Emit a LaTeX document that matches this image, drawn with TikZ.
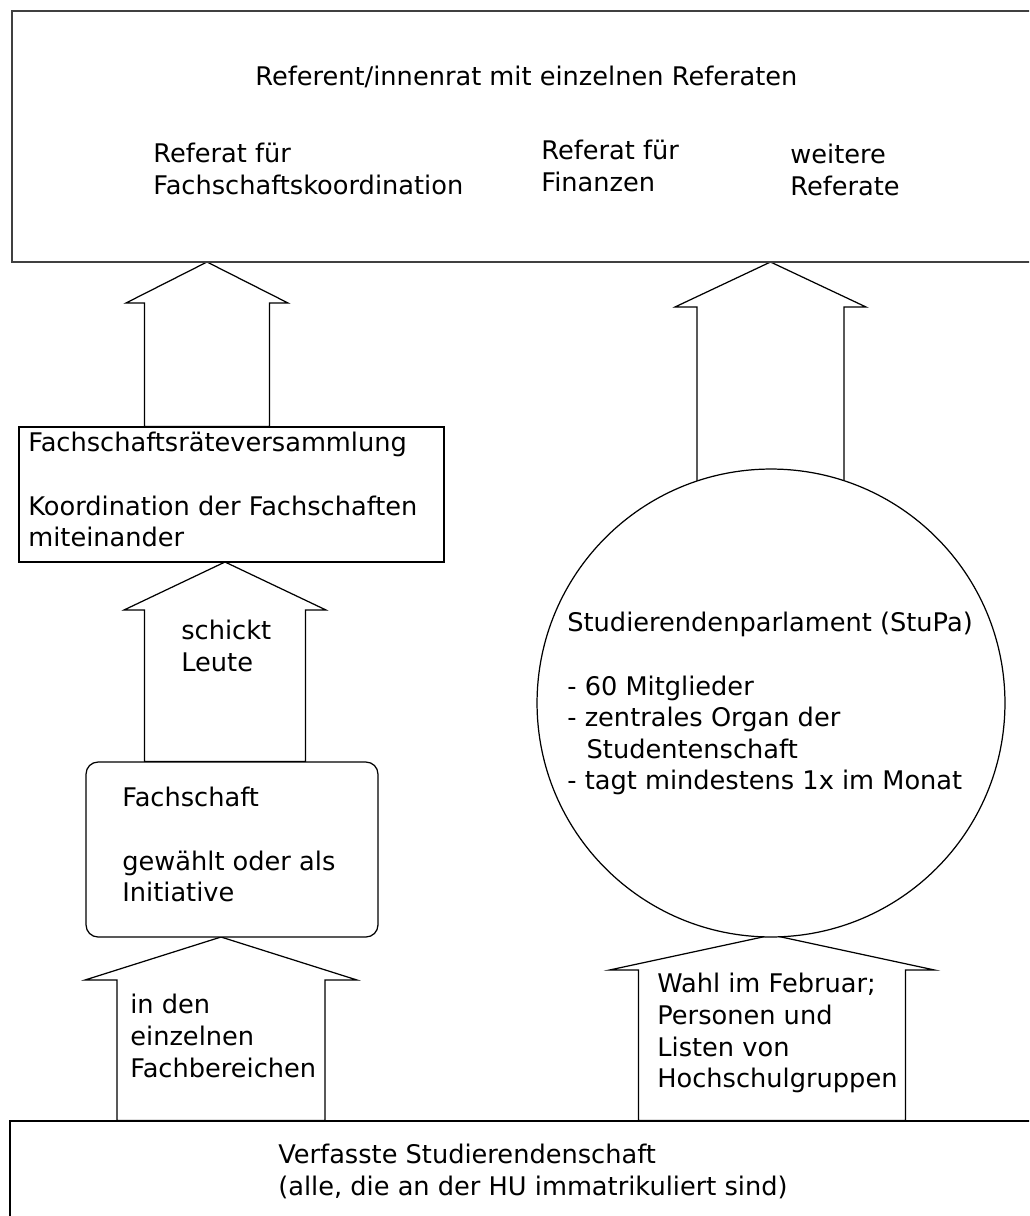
\documentclass[tikz,border=0pt]{standalone}
\usepackage{fontspec}
\setmainfont{DejaVu Sans}
\usepackage{tikz}
\usetikzlibrary{calc, backgrounds, positioning}

% block arrow: tip, lower anchor, shaft half width, head half width, head length
\newcommand{\blockarrow}[5]{%
  \draw[blockarr] (#1) -- ($(#1)+(#4,#5)$) -- ($(#1)+(#3,#5)$) -- ($(#1 |- #2)+(#3,0)$)
    -- ($(#1 |- #2)+(-#3,0)$) -- ($(#1)+(-#3,#5)$) -- ($(#1)+(-#4,#5)$) -- cycle;}

\begin{document}
\begin{tikzpicture}[
    x=0.02cm, y=-0.02cm,
    font=\fontsize{14.6}{18}\selectfont,
    box/.style={draw, fill=white, inner sep=0pt, line width=0.7pt},
    blockarr/.style={draw, fill=white, line width=0.7pt, line join=miter},
    txt/.style={anchor=north west, inner sep=0pt, align=left}
]
\useasboundingbox (0,0) rectangle (1029,1216);
\clip (0,0) rectangle (1029,1216);

% === BOXES ===
\node[box, draw=black!75, line width=1.1pt, minimum width=20.46cm, minimum height=5.02cm] (ref) at (523.5,136.5) {};
\node[box, minimum width=8.5cm, minimum height=2.7cm] (fsrv) at (231.5,494.5) {};
\node[box, rounded corners=0.24cm, minimum width=5.84cm, minimum height=3.5cm] (fs) at (232,849.5) {};
\node[box, circle, minimum size=9.36cm] (stupa) at (771,703) {};
\node[box, minimum width=20.5cm, minimum height=2.38cm] (vs) at (522.5,1180.5) {};

% === ARROWS ===
\coordinate (tipA) at (207,262);
\coordinate (tipB) at (225,562);
\coordinate (tipC) at (221,937);
\coordinate (tipD) at (770.5,262);
\coordinate (tipE) at (772,935);

\begin{scope}[on background layer]
    \blockarrow{tipA}{fsrv.north}{62.5}{81}{41}
    \blockarrow{tipB}{fs.north}{80.5}{101}{48}
    \blockarrow{tipC}{vs.north}{104}{136}{43}
    \blockarrow{tipD}{stupa.center}{73.5}{95.5}{45}
    \blockarrow{tipE}{vs.north}{133.5}{162.5}{35}
\end{scope}

% === TEXTS ===
\node[txt] (title) at (255,66) {Referent/innenrat mit einzelnen Referaten};
\node[txt] (refFK) at (153,143) {Referat für\\Fachschaftskoordination};
\node[txt] (refFin) at (541,140) {Referat für\\Finanzen};
\node[txt] (refMore) at (790,144) {weitere\\Referate};

\node[txt] (fsrvText) at (28,432) {Fachschaftsräteversammlung\\[18pt]Koordination der Fachschaften\\miteinander};
\node[txt] (sendText) at (181,620) {schickt\\Leute};
\node[txt] (fsText) at (122,787) {Fachschaft\\[18pt]gewählt oder als\\Initiative};
\node[txt] (fbText) at (130,994) {in den\\einzelnen\\Fachbereichen};

\node[txt] (stupaText) at (567,612) {Studierendenparlament (StuPa)\\[18pt]- 60 Mitglieder\\- zentrales Organ der\\\hspace*{11pt}Studentenschaft\\- tagt mindestens 1x im Monat};
\node[txt] (wahlText) at (657,973) {Wahl im Februar;\\Personen und\\Listen von\\Hochschulgruppen};

\node[txt] (vsText) at (278,1144) {Verfasste Studierendenschaft\\(alle, die an der HU immatrikuliert sind)};

\end{tikzpicture}
\end{document}
